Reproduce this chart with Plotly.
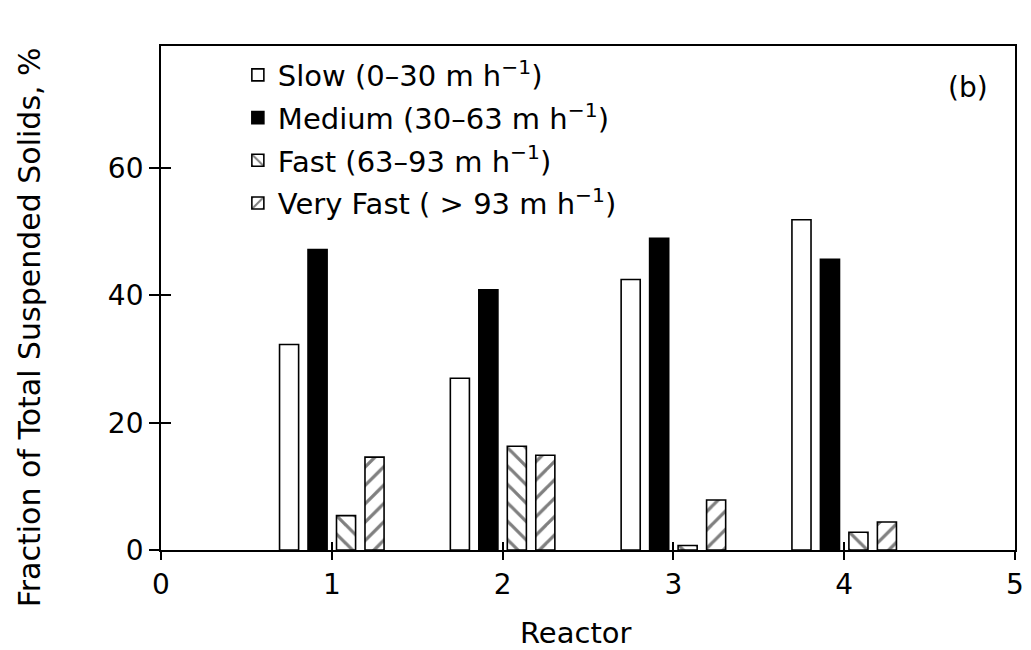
import plotly.graph_objects as go

reactors = [1, 2, 3, 4]
slow = [32.3, 27.0, 42.5, 51.9]
medium = [47.2, 40.9, 49.0, 45.7]
fast = [5.4, 16.3, 0.7, 2.8]
very_fast = [14.6, 14.9, 7.85, 4.4]

names = [
    "Slow (0–30 m h<sup>−1</sup>)",
    "Medium (30–63 m h<sup>−1</sup>)",
    "Fast (63–93 m h<sup>−1</sup>)",
    "Very Fast ( > 93 m h<sup>−1</sup>)",
]
x_ticks = [0, 1, 2, 3, 4, 5]
y_ticks = [0, 20, 40, 60]
x_title = "Reactor"
y_title = "Fraction of Total Suspended Solids, %"

FONT = "DejaVu Sans"
FS = 28

fig = go.Figure()
series = [slow, medium, fast, very_fast]
fills = ["white", "black", "white", "white"]
shapes = ["", "", "\\", "/"]
for i, (vals, nm) in enumerate(zip(series, names)):
    marker = dict(color=fills[i], line=dict(color="black", width=1.6))
    if shapes[i]:
        marker["pattern"] = dict(shape=shapes[i], fgcolor="black", bgcolor="white",
                                 size=13, solidity=0.25)
    fig.add_trace(go.Bar(x=reactors, y=vals, name=nm, marker=marker,
                         legendgroup=f"g{i}"))

# dummy trace for the overlay axes (inner half of crossing ticks)
fig.add_trace(go.Scatter(x=[], y=[], xaxis="x2", yaxis="y2", showlegend=False,
                         hoverinfo="skip"))

axis_common = dict(showgrid=False, zeroline=False, linecolor="black", linewidth=1.8,
                   tickcolor="black", tickwidth=1.6,
                   tickfont=dict(family=FONT, size=FS, color="black"))

fig.update_layout(
    width=1031, height=650,
    margin=dict(l=153, r=24, t=38, b=108),
    paper_bgcolor="white", plot_bgcolor="white",
    font=dict(family=FONT, size=FS, color="black"),
    barmode="group", bargap=0.333, bargroupgap=0.33,
    xaxis=dict(range=[0, 5], tickvals=x_ticks, ticks="outside", ticklen=8,
               showline=True, mirror=True, **axis_common),
    yaxis=dict(range=[0, 79.2], tickvals=y_ticks, ticks="outside", ticklen=10,
               showline=True, mirror=True, **axis_common),
    xaxis2=dict(range=[0, 5], tickvals=x_ticks, ticks="inside", ticklen=8,
                overlaying="x", anchor="y2", showticklabels=False, showline=False,
                showgrid=False, zeroline=False, tickcolor="black", tickwidth=1.6),
    yaxis2=dict(range=[0, 79.2], tickvals=y_ticks, ticks="inside", ticklen=10,
                overlaying="y", anchor="x2", side="left", showticklabels=False,
                showline=False, showgrid=False, zeroline=False, tickcolor="black",
                tickwidth=1.6),
    legend=dict(x=0.09, y=0.993, xanchor="left", yanchor="top",
                bgcolor="rgba(0,0,0,0)", tracegroupgap=2,
                font=dict(family=FONT, size=29, color="black")),
    showlegend=True,
    annotations=[
        dict(text="(b)", x=0.945, y=0.917, xref="paper", yref="paper",
             showarrow=False, xanchor="center", yanchor="middle",
             font=dict(family=FONT, size=FS, color="black")),
        dict(text=y_title, x=-0.153, y=0.4425, xref="paper", yref="paper",
             textangle=-90, showarrow=False, xanchor="center", yanchor="middle",
             font=dict(family=FONT, size=30, color="black")),
        dict(text=x_title, x=0.4865, y=-0.164, xref="paper", yref="paper",
             showarrow=False, xanchor="center", yanchor="middle",
             font=dict(family=FONT, size=29, color="black")),
    ],
)

fig.write_html("out.html")
